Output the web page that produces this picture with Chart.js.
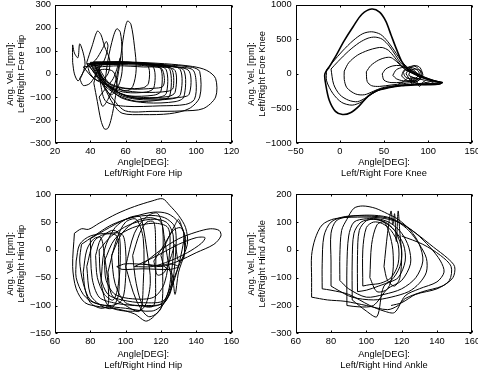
<!DOCTYPE html>
<html>
<head>
<meta charset="utf-8">
<script src="https://cdn.jsdelivr.net/npm/chart.js@4.4.1/dist/chart.umd.min.js"></script>
<style>
  body { margin: 0; background: #fff; width: 478px; height: 374px; position: relative; overflow: hidden; }
  canvas { position: absolute; }
</style>
</head>
<body>
<canvas id="c1" width="239" height="187" style="left:0;top:0"></canvas>
<canvas id="c2" width="239" height="187" style="left:239px;top:0"></canvas>
<canvas id="c3" width="239" height="187" style="left:0;top:187px"></canvas>
<canvas id="c4" width="239" height="187" style="left:239px;top:187px"></canvas>
<script>
// tick values per panel
const foreHipX = [20, 40, 60, 80, 100, 120];
const foreHipY = [-300, -200, -100, 0, 100, 200, 300];
const foreKneeX = [-50, 0, 50, 100, 150];
const foreKneeY = [-1000, -500, 0, 500, 1000];
const hindHipX = [60, 80, 100, 120, 140, 160];
const hindHipY = [-150, -100, -50, 0, 50, 100];
const hindAnkleX = [60, 80, 100, 120, 140, 160];
const hindAnkleY = [-300, -200, -100, 0, 100, 200];

// phase loops: [angle, angular velocity]
const foreHipLoops = [
  [[42,45],[55,50],[68,45],[73,30],[73,-40],[70,-60],[60,-62],[52,-45],[46,-10],[42,45]],
  [[40,42],[55,48],[70,42],[76,25],[76,-60],[72,-78],[60,-80],[52,-60],[45,-20],[40,42]],
  [[41,48],[58,52],[74,40],[80,22],[80,-75],[76,-92],[62,-95],[54,-72],[47,-25],[41,48]],
  [[43,44],[60,48],[76,38],[83,18],[83,-85],[78,-102],[65,-105],[56,-80],[48,-30],[43,44]],
  [[39,40],[58,46],[78,36],[85,20],[85,-95],[80,-112],[66,-118],[55,-90],[46,-35],[39,40]],
  [[44,38],[62,44],[80,32],[88,15],[88,-80],[84,-98],[70,-102],[57,-85],[49,-25],[44,38]],
  [[40,50],[60,50],[82,38],[91,18],[91,-90],[86,-108],[70,-112],[58,-95],[48,-40],[40,50]],
  [[42,46],[62,48],[84,34],[93,15],[93,-100],[88,-120],[72,-125],[58,-105],[49,-45],[42,46]],
  [[38,44],[60,47],[86,32],[96,12],[96,-88],[90,-102],[75,-108],[60,-95],[48,-40],[38,44]],
  [[45,42],[65,45],[88,30],[98,18],[100,-40],[99,-110],[94,-132],[80,-138],[60,-140],[49,-120],[46,-50],[45,42]],
  [[40,46],[62,50],[85,38],[98,28],[102,10],[102,-100],[96,-150],[85,-172],[70,-176],[58,-170],[53,-130],[48,-60],[40,46]],
  [[42,52],[60,52],[82,44],[98,32],[106,15],[111,-20],[111,-100],[104,-150],[92,-160],[75,-162],[60,-160],[53,-110],[47,-40],[42,52]],
  [[36,30],[48,40],[66,38],[78,30],[86,22],[87,-60],[84,-75],[70,-80],[58,-70],[50,-50],[42,-20],[36,30]],
  [[44,30],[56,35],[70,30],[80,25],[82,-20],[81,-55],[76,-62],[64,-66],[54,-55],[48,-25],[44,30]],
  [[55,-40],[57,60],[59,170],[61,228],[63,215],[65,120],[66,20],[64,-55],[60,-75],[56,-60],[55,-40]],
  [[42,-40],[44,-120],[46,-200],[48,-238],[50,-235],[52,-190],[54,-110],[55,-40],[53,10],[48,20],[44,10],[42,-40]],
  [[48,-60],[50,60],[53,160],[55,195],[57,180],[58,100],[58,10],[56,-50],[52,-90],[48,-60]],
  [[38,50],[41,120],[44,185],[46,170],[48,120],[51,60],[50,0],[45,-30],[40,0],[38,50]],
  [[30,50],[30,125],[31,90],[33,70],[34,130],[36,90],[37,40],[35,-10],[33,-30],[31,0],[30,50]],
  [[34,-20],[38,30],[43,60],[47,110],[49,140],[50,120],[48,60],[44,10],[40,-40],[36,-50],[34,-20]],
  [[45,-100],[50,-50],[53,-20],[55,20],[57,70],[56,30],[54,-40],[50,-110],[47,-140],[45,-100]]
];

const foreKneeLoops = [
  [[-12,100],[-5,250],[5,480],[15,680],[25,860],[36,935],[45,890],[52,760],[58,560],[64,360],[70,180],[76,70],[82,20],[90,-30],[100,-80],[110,-110],[116,-125],[112,-145],[100,-150],[85,-160],[70,-170],[55,-200],[42,-240],[32,-320],[22,-460],[12,-560],[3,-585],[-5,-540],[-12,-380],[-16,-150],[-17,0],[-12,100]],
  [[-15,60],[-8,170],[3,330],[15,480],[26,580],[36,607],[46,570],[54,470],[62,330],[70,180],[78,80],[86,20],[95,-40],[105,-90],[114,-120],[108,-140],[92,-150],[75,-160],[58,-190],[45,-230],[35,-300],[25,-400],[14,-450],[2,-410],[-8,-280],[-15,-100],[-15,60]],
  [[-10,70],[-2,180],[10,330],[22,450],[32,515],[40,530],[48,500],[56,400],[63,270],[70,140],[78,60],[86,10],[96,-50],[108,-100],[112,-130],[100,-140],[85,-150],[68,-165],[52,-200],[40,-260],[30,-340],[20,-400],[10,-380],[0,-300],[-7,-150],[-10,70]],
  [[5,40],[10,160],[20,270],[32,340],[42,375],[48,380],[55,340],[62,240],[68,140],[74,60],[82,10],[92,-50],[104,-100],[96,-130],[80,-150],[62,-170],[48,-200],[38,-250],[28,-300],[18,-290],[8,-200],[5,-80],[5,40]],
  [[30,30],[35,120],[44,200],[52,235],[58,235],[64,180],[70,110],[76,50],[84,0],[92,-60],[86,-110],[72,-140],[58,-160],[45,-180],[36,-170],[31,-110],[30,30]],
  [[48,0],[52,70],[60,115],[68,120],[75,85],[82,40],[88,-10],[90,-60],[82,-100],[70,-120],[58,-125],[50,-90],[48,0]],
  [[60,-20],[64,60],[72,95],[80,80],[86,30],[88,-40],[82,-90],[72,-100],[64,-70],[60,-20]],
  [[70,-30],[72,40],[78,100],[85,110],[90,60],[92,-10],[88,-80],[80,-110],[74,-80],[70,-30]],
  [[75,0],[78,70],[84,120],[90,100],[93,30],[92,-50],[86,-120],[80,-90],[75,0]],
  [[72,20],[76,80],[82,90],[88,50],[90,0],[86,-60],[80,-70],[74,-40],[72,20]],
  [[78,-20],[80,50],[86,70],[92,40],[94,-20],[90,-70],[84,-60],[78,-20]],
  [[66,-150],[72,-110],[78,-60],[82,-150],[86,-90],[90,-180],[95,-110],[100,-150],[106,-120]],
  [[80,-40],[92,-80],[104,-110],[115,-130],[113,-150],[102,-160],[90,-150],[82,-100],[80,-40]]
];

const hindHipLoops = [
  [[71,30],[75,38],[79,37],[85,48],[95,65],[105,78],[115,88],[121,92],[125,80],[130,62],[134,40],[135,10],[130,-30],[125,-70],[120,-105],[112,-128],[105,-115],[95,-106],[85,-102],[77,-95],[72,-70],[70,-30],[71,30]],
  [[75,10],[82,25],[92,45],[105,60],[116,68],[124,65],[130,50],[133,30],[132,0],[128,-50],[122,-95],[115,-110],[100,-105],[88,-100],[80,-90],[76,-60],[74,-20],[75,10]],
  [[80,20],[88,35],[100,55],[112,62],[122,58],[128,40],[128,-20],[125,-80],[118,-100],[105,-100],[93,-95],[85,-85],[81,-50],[80,20]],
  [[85,0],[92,25],[102,45],[114,55],[123,50],[127,25],[126,-40],[122,-90],[110,-95],[98,-90],[90,-80],[86,-50],[85,0]],
  [[88,-20],[94,20],[104,40],[116,48],[124,40],[125,0],[122,-60],[116,-85],[104,-88],[94,-80],[89,-55],[88,-20]],
  [[110,-25],[120,0],[130,20],[140,32],[148,38],[153,35],[154,25],[150,10],[140,-5],[130,-20],[120,-30],[110,-25]],
  [[105,-30],[118,-10],[130,10],[140,22],[145,22],[143,12],[135,-5],[125,-20],[115,-30],[105,-30]],
  [[72,-20],[74,10],[80,25],[90,30],[98,28],[100,0],[100,-50],[98,-90],[92,-100],[82,-95],[76,-80],[72,-50],[72,-20]],
  [[78,-30],[82,15],[88,28],[95,25],[96,-20],[96,-80],[92,-105],[86,-100],[80,-80],[78,-30]],
  [[90,-40],[95,20],[100,50],[106,55],[110,20],[110,-60],[108,-110],[100,-100],[92,-80],[90,-40]],
  [[100,-30],[105,30],[112,60],[118,66],[121,40],[121,-30],[120,-105],[113,-120],[106,-90],[100,-30]],
  [[95,-30],[100,-25],[110,-26],[120,-28],[125,-25],[130,-30],[125,-35],[110,-34],[98,-35],[95,-30]],
  [[116,-20],[122,10],[127,35],[131,40],[133,30],[133,-15],[130,-20],[128,10],[126,-10],[122,-40],[118,-45],[116,-20]],
  [[83,-10],[86,20],[92,35],[96,30],[97,-10],[96,-60],[93,-90],[88,-80],[84,-50],[83,-10]],
  [[104,-10],[108,30],[112,50],[116,50],[117,10],[117,-50],[116,-100],[110,-100],[106,-60],[104,-10]],
  [[86,-60],[88,0],[94,40],[102,58],[108,60],[110,40],[112,0],[114,-60],[110,-105],[100,-110],[90,-100],[86,-60]],
  [[92,-10],[98,30],[106,52],[114,58],[120,50],[122,20],[124,-20],[126,-60],[122,-95],[112,-100],[100,-95],[94,-60],[92,-10]],
  [[120,-10],[124,20],[128,45],[130,55],[132,40],[134,20],[133,-10],[130,-40],[128,-80],[126,-40],[122,-30],[120,-10]],
  [[76,-40],[78,0],[82,20],[86,22],[88,-10],[90,-60],[90,-100],[86,-105],[80,-95],[77,-70],[76,-40]]
];

const hindAnkleLoops = [
  [[69,-170],[69,-100],[69,-20],[71,40],[75,90],[82,112],[95,118],[108,115],[118,100],[128,60],[138,10],[146,-30],[150,-60],[149,-100],[143,-130],[132,-150],[122,-175],[118,-200],[112,-215],[100,-200],[88,-185],[78,-180],[69,-170]],
  [[75,-140],[75,-50],[76,50],[80,100],[88,120],[100,122],[112,115],[120,95],[128,60],[136,10],[142,-40],[144,-80],[140,-115],[130,-140],[122,-165],[116,-225],[110,-220],[102,-200],[90,-160],[80,-145],[75,-140]],
  [[80,-130],[80,-40],[80,60],[83,105],[90,120],[102,125],[112,118],[118,100],[124,70],[130,20],[134,-30],[134,-80],[130,-120],[124,-150],[114,-170],[104,-180],[92,-170],[84,-145],[80,-130]],
  [[85,-110],[85,-20],[86,70],[89,110],[93,150],[98,158],[105,150],[112,130],[118,110],[125,70],[130,20],[132,-40],[128,-100],[120,-140],[110,-160],[100,-170],[90,-140],[85,-110]],
  [[89,-200],[89,-60],[90,50],[93,100],[100,112],[108,110],[114,95],[120,60],[124,10],[125,-50],[120,-110],[112,-140],[104,-200],[96,-205],[89,-200]],
  [[92,-180],[92,-40],[93,60],[97,100],[104,110],[110,100],[116,70],[121,20],[122,-40],[118,-100],[110,-130],[106,-240],[100,-220],[92,-180]],
  [[95,-150],[95,-20],[96,70],[100,105],[106,110],[112,95],[117,60],[120,0],[119,-60],[114,-110],[107,-130],[100,-145],[95,-150]],
  [[98,-130],[98,0],[100,80],[104,100],[109,95],[114,70],[118,20],[118,-50],[114,-100],[108,-120],[102,-125],[98,-130]],
  [[110,-60],[112,60],[114,140],[115,90],[116,130],[117,30],[118,140],[119,60],[120,-20],[119,-100],[116,-130],[112,-110],[110,-60]],
  [[102,-100],[103,20],[106,90],[110,100],[113,60],[115,0],[115,-80],[112,-140],[106,-150],[102,-100]],
  [[120,50],[132,20],[142,-20],[148,-60],[147,-110],[140,-140],[128,-160],[120,-190],[114,-200]]
];

Chart.defaults.font.family = "'Liberation Sans', Arial, Helvetica, sans-serif";
Chart.defaults.color = '#000';

const fmt = v => (v < 0 ? '\u2212' + Math.abs(v) : String(v));

// box and inward tick marks, matlab style
const frame = {
  id: 'frame',
  afterDatasetsDraw(chart) {
    const { ctx, chartArea: a, scales: { x, y } } = chart;
    const L = Math.round(a.left) + 0.5, R = Math.round(a.right) - 0.5;
    const T = Math.round(a.top) + 0.5, B = Math.round(a.bottom) - 0.5;
    ctx.save();
    ctx.strokeStyle = '#000';
    ctx.lineWidth = 1;
    ctx.strokeRect(L, T, R - L, B - T);
    ctx.beginPath();
    x.ticks.forEach(t => {
      const p = Math.round(x.getPixelForValue(t.value)) + 0.5;
      ctx.moveTo(p, B); ctx.lineTo(p, B - 2);
      ctx.moveTo(p, T); ctx.lineTo(p, T + 2);
    });
    y.ticks.forEach(t => {
      const p = Math.round(y.getPixelForValue(t.value)) + 0.5;
      ctx.moveTo(L, p); ctx.lineTo(L + 2, p);
      ctx.moveTo(R, p); ctx.lineTo(R - 2, p);
    });
    ctx.stroke();
    ctx.restore();
  }
};

function makePanel(id, loops, xTicks, yTicks, joint, lay) {
  const tickFont = { size: 9.3 };
  const titleFont = { size: 9.3, lineHeight: '11px' };
  new Chart(document.getElementById(id), {
    type: 'scatter',
    data: {
      datasets: loops.map((loop, i) => ({
        data: loop.map(p => ({ x: p[0], y: p[1] })),
        showLine: true,
        borderColor: '#000',
        borderWidth: (lay.boldFirst && i === 0) ? 1.6 : 1,
        pointRadius: 0,
        tension: 0.3
      }))
    },
    options: {
      responsive: false,
      animation: false,
      layout: { padding: lay.pad },
      plugins: { legend: { display: false }, tooltip: { enabled: false } },
      scales: {
        x: {
          min: xTicks[0], max: xTicks[xTicks.length - 1],
          grid: { display: false, drawTicks: false },
          border: { display: false },
          afterBuildTicks: s => { s.ticks = xTicks.map(v => ({ value: v })); },
          afterFit: s => { s.height = lay.xHeight; s.paddingLeft = 0; s.paddingRight = 0; },
          ticks: { font: tickFont, padding: 3, maxRotation: 0, autoSkip: false, callback: fmt },
          title: { display: true, text: ['Angle[DEG]:', joint], font: titleFont, padding: { top: 0, bottom: lay.xTitlePad } }
        },
        y: {
          min: yTicks[0], max: yTicks[yTicks.length - 1],
          grid: { display: false, drawTicks: false },
          border: { display: false },
          afterBuildTicks: s => { s.ticks = yTicks.map(v => ({ value: v })); },
          afterFit: s => { s.width = lay.yWidth; s.paddingTop = 0; s.paddingBottom = 0; },
          ticks: { font: tickFont, padding: 4, autoSkip: false, callback: fmt },
          title: { display: true, text: ['Ang. Vel. [rpm]:', joint], font: titleFont, padding: { top: lay.yTitlePad, bottom: 0 } }
        }
      }
    },
    plugins: [frame]
  });
}

makePanel('c1', foreHipLoops, foreHipX, foreHipY, 'Left/Right Fore Hip',
  { pad: { left: 0, right: 7.5, top: 4.5, bottom: 0 }, xHeight: 43.7, yWidth: 55, xTitlePad: 8, yTitlePad: 4.5 });
makePanel('c2', foreKneeLoops, foreKneeX, foreKneeY, 'Left/Right Fore Knee',
  { pad: { left: 0, right: 5.7, top: 4.5, bottom: 0 }, xHeight: 43.7, yWidth: 56.7, xTitlePad: 8, yTitlePad: 6.8, boldFirst: true });
makePanel('c3', hindHipLoops, hindHipX, hindHipY, 'Left/Right Hind Hip',
  { pad: { left: 0, right: 7.5, top: 7.3, bottom: 0 }, xHeight: 40.7, yWidth: 55, xTitlePad: 3, yTitlePad: 4.5 });
makePanel('c4', hindAnkleLoops, hindAnkleX, hindAnkleY, 'Left/Right Hind Ankle',
  { pad: { left: 0, right: 5.7, top: 7.3, bottom: 0 }, xHeight: 40.7, yWidth: 56.7, xTitlePad: 3, yTitlePad: 6.8 });
</script>
</body>
</html>
